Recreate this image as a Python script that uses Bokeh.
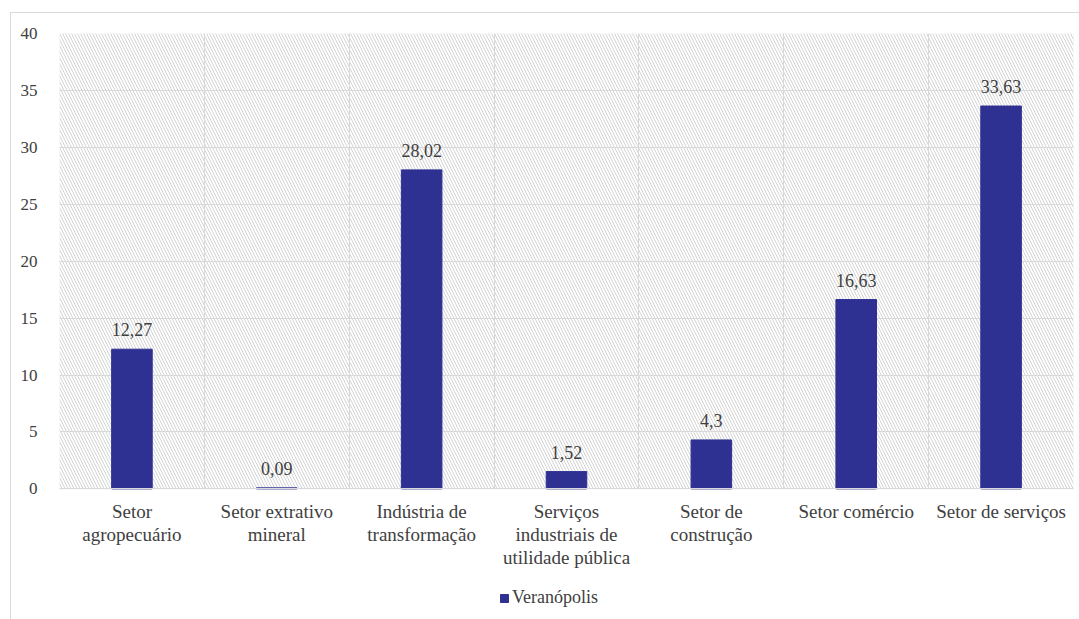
from bokeh.plotting import figure
from bokeh.models import (ColumnDataSource, FactorRange, Range1d, FixedTicker,
                          BoxAnnotation, Legend, LegendItem)
from bokeh.core.properties import value
from bokeh.embed import file_html
from bokeh.resources import INLINE

categories = [
    "Setor\nagropecuário",
    "Setor extrativo\nmineral",
    "Indústria de\ntransformação",
    "Serviços\nindustriais de\nutilidade pública",
    "Setor de\nconstrução",
    "Setor comércio",
    "Setor de serviços",
]
values = [12.27, 0.09, 28.02, 1.52, 4.3, 16.63, 33.63]
series_name = "Veranópolis"
y_ticks = [0, 5, 10, 15, 20, 25, 30, 35, 40]

labels = [f"{v:g}".replace(".", ",") for v in values]
src = ColumnDataSource(dict(cat=categories, val=values, lab=labels))

FONT = "Liberation Serif"
TXT = "#404040"
GRID = "#d9d9d9"
BAR = "#2e3192"

# the frame extends below 0 so that the legend can sit under the category labels
p = figure(x_range=FactorRange(factors=categories), y_range=Range1d(-12, 40),
           frame_width=1014, frame_height=592,
           output_backend="svg", toolbar_location=None,
           min_border_left=48, min_border_right=6, min_border_top=20,
           min_border_bottom=10)
p.styles = {"margin-left": "10px", "margin-top": "12px",
            "border-left": "1px solid #d9d9d9", "border-top": "1px solid #d9d9d9"}

bg = BoxAnnotation(bottom=0, fill_alpha=0, line_color=None,
                   hatch_pattern="left_diagonal_line", hatch_color="#d3d3d3",
                   hatch_scale=6, hatch_weight=1, level="image")
p.add_layout(bg)

cover = BoxAnnotation(top=0, fill_color="white", fill_alpha=1, line_color=None,
                      level="underlay")
p.add_layout(cover)

plot_area = BoxAnnotation(bottom=0, fill_alpha=0, line_color=GRID, line_width=1,
                          level="underlay")
p.add_layout(plot_area)

r = p.vbar(x="cat", top="val", width=0.28, source=src, fill_color=BAR, line_color=BAR)
p.text(x="cat", y="val", text="lab", source=src, text_align="center",
       text_baseline="bottom", y_offset=-13, text_font=value(FONT),
       text_font_size="18px", text_color=TXT)

p.yaxis.ticker = FixedTicker(ticks=y_ticks)
p.yaxis.axis_line_color = None
p.yaxis.major_tick_line_color = None
p.yaxis.minor_tick_line_color = None
p.yaxis.major_label_standoff = 16
p.yaxis.major_label_text_font = FONT
p.yaxis.major_label_text_font_size = "17px"
p.yaxis.major_label_text_color = TXT

p.xaxis.fixed_location = 0
p.xaxis.axis_line_color = GRID
p.xaxis.major_tick_line_color = None
p.xaxis.major_label_standoff = 6
p.xaxis.major_label_text_font = FONT
p.xaxis.major_label_text_font_size = "19px"
p.xaxis.major_label_text_line_height = 1.1
p.xaxis.major_label_text_color = TXT

p.xgrid.ticker = FixedTicker(ticks=[1, 2, 3, 4, 5, 6])
p.xgrid.grid_line_color = GRID
p.ygrid.grid_line_color = GRID
p.outline_line_color = None

legend = Legend(items=[LegendItem(label=series_name, renderers=[r])],
                orientation="horizontal", location=(440, 17),
                border_line_color=None, background_fill_alpha=0,
                glyph_width=10, glyph_height=10, label_standoff=3,
                label_text_font=FONT, label_text_font_size="18px",
                label_text_color=TXT, margin=0, padding=0)
p.add_layout(legend)

open("out.html", "w").write(file_html(p, INLINE))
